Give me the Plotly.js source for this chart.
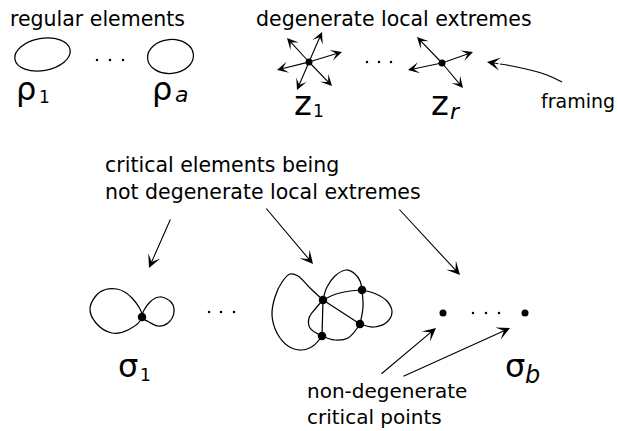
<!DOCTYPE html>
<html><head><meta charset="utf-8">
<script src="https://cdn.plot.ly/plotly-3.0.1.min.js"></script>
<style>html,body{margin:0;padding:0;background:#fff}</style>
</head><body><div id="chart" style="width:618px;height:431px"></div>
<script>
// ---- regular elements (closed curves) ----
const ellipseCx = [42.5, 170.5];
const ellipseCy = [54.5, 56.5];
const ellipseRx = [28, 23];
const ellipseRy = [16, 17];
const ellipseRot = [-10, -5];

// ---- degenerate local extremes (stars) ----
const star1Center = [309, 62];
const star1TipX = [322, 287, 342, 277, 297, 332];
const star1TipY = [32, 38, 52, 70, 90, 86];
const starRCenter = [442, 63];
const starRTipX = [417, 473, 408, 463];
const starRTipY = [37, 52, 70, 88];

// ---- ellipsis dots ----
const dotsX = [97, 110, 123, 367, 379, 391, 209, 221, 234, 473, 486, 499];
const dotsY = [60, 60, 60, 62, 62, 62, 312, 312, 312, 313, 313, 313];

// ---- sigma_1 figure eight ----
const sig1NodeX = [142], sig1NodeY = [317];
const sig1BigX = [142, 132, 117, 100, 90, 96, 112, 128, 142];
const sig1BigY = [317, 298, 289, 292, 308, 323, 333, 330, 317];
const sig1SmallX = [142, 150, 160, 171, 174, 168, 158, 149, 142];
const sig1SmallY = [317, 302, 297, 302, 312, 323, 326, 322, 317];

// ---- graph critical element ----
const graphNodeX = [323, 362, 360, 322];
const graphNodeY = [300, 290, 324, 336];
const edgeLeftX = [323, 310, 298, 290, 282, 275, 272, 277, 288, 301, 313, 322];
const edgeLeftY = [300, 288, 276, 274, 282, 297, 315, 333, 346, 350, 346, 336];
const edgeADX = [323, 322], edgeADY = [300, 336];
const edgeACX = [323, 360], edgeACY = [300, 324];
const edgeTopX = [323, 327, 335, 346, 355, 360, 362];
const edgeTopY = [300, 287, 276, 270, 274, 281, 290];
const edgeABX = [323, 336, 350, 362];
const edgeABY = [300, 294, 291, 290];
const edgeBCX = [362, 363, 360];
const edgeBCY = [290, 307, 324];
const edgeRightX = [362, 376, 387, 392, 387, 374, 360];
const edgeRightY = [290, 294, 301, 312, 322, 327, 324];
const edgeInnerX = [323, 316, 309, 310, 322, 335, 348, 360];
const edgeInnerY = [300, 308, 318, 328, 336, 340, 338, 324];

// ---- non-degenerate critical points ----
const critX = [443, 525];
const critY = [313, 313];

// ---- straight arrows (tail -> tip) ----
const arrowTailX = [171, 265, 398, 380, 402];
const arrowTailY = [218, 207, 208, 375, 377];
const arrowTipX = [149, 313, 460, 436, 510];
const arrowTipY = [268, 264, 275, 328, 328];

// ---- framing curved arrow ----
const framingX = [562, 547, 530, 512, 500];
const framingY = [82, 75, 70, 66, 64];
const framingTip = [487, 62];

// ---- texts ----
const textLabels = ['regular elements', 'degenerate local extremes', 'framing',
  'critical elements being<br>not degenerate local extremes', 'non-degenerate<br>critical points'];
const textX = [8, 254, 539, 103, 305];
const textY = [19, 19, 101, 178, 404];
const textSize = [20.5, 20.5, 19, 20.5, 20];

const symLabels = ['ρ', '1', 'ρ', '<i>a</i>', 'z', '1', 'z', '<i>r</i>', 'σ', '1', 'σ', '<i>b</i>'];
const symX = [14, 36.5, 150, 173, 292, 311, 429, 448, 116, 138, 503, 523];
const symY = [88.5, 96.5, 88.5, 94.5, 103, 111, 103, 111, 366, 375, 366, 374.5];
const symSize = [32, 17, 32, 22, 34, 17, 34, 22, 32, 17, 32, 24];

// ================= build =================
const FONT = 'DejaVu Sans';
const LINE = {color: '#000', width: 1.25, shape: 'spline', smoothing: 1};
function curve(xs, ys, lineOpts) {
  return {x: xs, y: ys, mode: 'lines', type: 'scatter', hoverinfo: 'skip',
          line: Object.assign({}, LINE, lineOpts || {})};
}
function markers(xs, ys, size) {
  return {x: xs, y: ys, mode: 'markers', type: 'scatter', hoverinfo: 'skip',
          marker: {color: '#000', size: size}};
}
function ellipsePath(cx, cy, rx, ry, deg) {
  const k = 0.5523, t = deg * Math.PI / 180, c = Math.cos(t), s = Math.sin(t);
  const P = (u, v) => [cx + u * c - v * s, cy + u * s + v * c];
  const pts = [[rx,0],[rx,k*ry],[k*rx,ry],[0,ry],[-k*rx,ry],[-rx,k*ry],[-rx,0],
               [-rx,-k*ry],[-k*rx,-ry],[0,-ry],[k*rx,-ry],[rx,-k*ry],[rx,0]];
  const q = pts.map(p => P(p[0], p[1]).map(n => n.toFixed(2)).join(','));
  return 'M' + q[0] + ' C' + q[1] + ' ' + q[2] + ' ' + q[3] + ' C' + q[4] + ' ' + q[5] + ' ' + q[6] +
         ' C' + q[7] + ' ' + q[8] + ' ' + q[9] + ' C' + q[10] + ' ' + q[11] + ' ' + q[12] + ' Z';
}
function arrow(tx, ty, hx, hy, size) {
  return {x: hx, y: hy, ax: tx, ay: ty, xref: 'x', yref: 'y', axref: 'x', ayref: 'y',
          text: '', showarrow: true, arrowhead: 3, arrowsize: size || 1.8, arrowwidth: 1.1,
          arrowcolor: '#000', standoff: 0, startstandoff: 0};
}

const traces = [];
traces.push(curve(sig1BigX, sig1BigY));
traces.push(curve(sig1SmallX, sig1SmallY));
[[edgeLeftX, edgeLeftY], [edgeADX, edgeADY], [edgeACX, edgeACY], [edgeTopX, edgeTopY],
 [edgeABX, edgeABY], [edgeBCX, edgeBCY], [edgeRightX, edgeRightY], [edgeInnerX, edgeInnerY]]
  .forEach(e => traces.push(curve(e[0], e[1])));
traces.push(curve(framingX, framingY));
traces.push(markers(dotsX, dotsY, 2.5));
traces.push(markers(sig1NodeX, sig1NodeY, 8.5));
traces.push(markers(graphNodeX, graphNodeY, 8.5));
traces.push(markers(critX, critY, 7));
traces.push(markers([star1Center[0], starRCenter[0]], [star1Center[1], starRCenter[1]], 7));

const shapes = ellipseCx.map((cx, i) => ({
  type: 'path', xref: 'x', yref: 'y',
  path: ellipsePath(cx, ellipseCy[i], ellipseRx[i], ellipseRy[i], ellipseRot[i]),
  line: {color: '#000', width: 1.25}
}));

const annotations = [];
star1TipX.forEach((x, i) => annotations.push(arrow(star1Center[0], star1Center[1], x, star1TipY[i], 1.7)));
starRTipX.forEach((x, i) => annotations.push(arrow(starRCenter[0], starRCenter[1], x, starRTipY[i], 1.7)));
arrowTailX.forEach((x, i) => annotations.push(arrow(x, arrowTailY[i], arrowTipX[i], arrowTipY[i], 2.0)));
annotations.push(arrow(framingX[framingX.length - 1], framingY[framingY.length - 1], framingTip[0], framingTip[1], 2.0));
textLabels.forEach((t, i) => annotations.push({
  x: textX[i], y: textY[i], xref: 'x', yref: 'y', text: t, showarrow: false,
  xanchor: 'left', yanchor: 'middle', align: 'left',
  font: {family: FONT, size: textSize[i], color: '#000'}
}));
symLabels.forEach((t, i) => annotations.push({
  x: symX[i], y: symY[i], xref: 'x', yref: 'y', text: t, showarrow: false,
  xanchor: 'left', yanchor: 'middle', align: 'left',
  font: {family: FONT, size: symSize[i], color: '#000'}
}));

const layout = {
  width: 618, height: 431, margin: {l: 0, r: 0, t: 0, b: 0, pad: 0},
  paper_bgcolor: '#fff', plot_bgcolor: '#fff', showlegend: false,
  xaxis: {range: [0, 618], visible: false, fixedrange: true},
  yaxis: {range: [431, 0], visible: false, fixedrange: true},
  shapes: shapes, annotations: annotations
};
Plotly.newPlot('chart', traces, layout, {staticPlot: true, displayModeBar: false});
</script></body></html>
